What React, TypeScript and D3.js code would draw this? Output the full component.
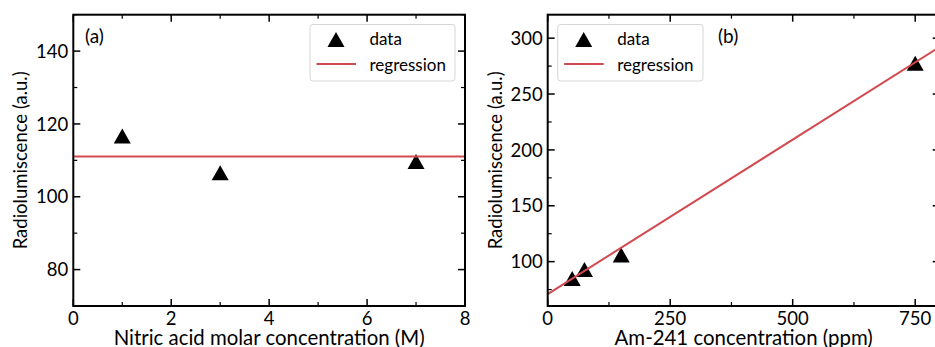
import React from "react";
import * as d3 from "d3";

const W = 935;
const H = 347;
const FONT = "Lato, 'Open Sans', sans-serif";
const RED = "#d24a50";

// Panel (a)
const nitricX = [1, 3, 7];
const nitricY = [116.7, 106.6, 109.7];
const nitricRegression = 111.05;
const aXTicks = [0, 2, 4, 6, 8];
const aXMinor = [1, 3, 5, 7];
const aYTicks = [80, 100, 120, 140];
const aYMinor = [70, 90, 110, 130, 150];

// Panel (b)
const amX = [50, 75, 150, 750];
const amY = [85, 93, 106, 277.6];
const amIntercept = 71;
const amSlope = 0.2764;
const bXTicks = [0, 250, 500, 750];
const bXMinor = [125, 375, 625];
const bYTicks = [100, 150, 200, 250, 300];
const bYMinor = [75, 125, 175, 225, 275];

const yLabel = "Radiolumiscence (a.u.)";

function tri(cx: number, cy: number) {
  const hw = 8.5, hh = 7.5;
  return `M${cx},${cy - hh}L${cx + hw},${cy + hh}L${cx - hw},${cy + hh}Z`;
}

type PanelProps = {
  id: string;
  x: d3.ScaleLinear<number, number>;
  y: d3.ScaleLinear<number, number>;
  xTicks: number[];
  xMinor: number[];
  yTicks: number[];
  yMinor: number[];
  px: number[];
  py: number[];
  line: [number, number][];
  xLabel: string;
  yLabelX: number;
  tag: string;
  tagX: number;
  legendX: number;
  legendW: number;
};

function Panel(p: PanelProps) {
  const [x0, x1] = p.x.range();
  const [y0, y1] = p.y.range(); // y0 bottom, y1 top
  const lineGen = d3.line<[number, number]>().x((d) => p.x(d[0])).y((d) => p.y(d[1]));
  const MAJ = 7, MIN = 4;
  return (
    <g>
      <defs>
        <clipPath id={`clip-${p.id}`}>
          <rect x={x0} y={y1} width={x1 - x0} height={y0 - y1} />
        </clipPath>
      </defs>
      {p.xTicks.map((t) => (
        <g key={`xt${t}`}>
          <line x1={p.x(t)} x2={p.x(t)} y1={y0} y2={y0 - MAJ} stroke="#000" strokeWidth={1.5} />
          <line x1={p.x(t)} x2={p.x(t)} y1={y1} y2={y1 + MAJ} stroke="#000" strokeWidth={1.5} />
          <text x={p.x(t)} y={325} textAnchor="middle" fontSize={18.5} fontFamily={FONT}>{t}</text>
        </g>
      ))}
      {p.xMinor.map((t) => (
        <g key={`xm${t}`}>
          <line x1={p.x(t)} x2={p.x(t)} y1={y0} y2={y0 - MIN} stroke="#000" strokeWidth={1.2} />
          <line x1={p.x(t)} x2={p.x(t)} y1={y1} y2={y1 + MIN} stroke="#000" strokeWidth={1.2} />
        </g>
      ))}
      {p.yTicks.map((t) => (
        <g key={`yt${t}`}>
          <line x1={x0} x2={x0 + MAJ} y1={p.y(t)} y2={p.y(t)} stroke="#000" strokeWidth={1.5} />
          <line x1={x1} x2={x1 - MAJ} y1={p.y(t)} y2={p.y(t)} stroke="#000" strokeWidth={1.5} />
          <text x={x0 - 5} y={p.y(t)} dy="0.36em" textAnchor="end" fontSize={18.5} fontFamily={FONT}>{t}</text>
        </g>
      ))}
      {p.yMinor.map((t) => (
        <g key={`ym${t}`}>
          <line x1={x0} x2={x0 + MIN} y1={p.y(t)} y2={p.y(t)} stroke="#000" strokeWidth={1.2} />
          <line x1={x1} x2={x1 - MIN} y1={p.y(t)} y2={p.y(t)} stroke="#000" strokeWidth={1.2} />
        </g>
      ))}
      <g clipPath={`url(#clip-${p.id})`}>
        {p.px.map((v, i) => (
          <path key={i} d={tri(p.x(v), p.y(p.py[i]))} fill="#000" />
        ))}
        <path d={lineGen(p.line) || ""} fill="none" stroke={RED} strokeWidth={2} />
      </g>
      <rect x={x0} y={y1} width={x1 - x0} height={y0 - y1} fill="none" stroke="#000" strokeWidth={2} />
      <text x={p.tagX} y={43} fontSize={19} fontFamily={FONT}>{p.tag}</text>
      <g>
        <rect x={p.legendX} y={24.5} width={p.legendW} height={56.5} rx={3} fill="#fff" fillOpacity={0.85} stroke="#d6d6d6" strokeWidth={1} />
        <path d={tri(p.legendX + 26, 39.5)} fill="#000" />
        <text x={p.legendX + 59.5} y={45} fontSize={17} fontFamily={FONT}>data</text>
        <line x1={p.legendX + 6.5} x2={p.legendX + 46} y1={64} y2={64} stroke={RED} strokeWidth={2} />
        <text x={p.legendX + 59.5} y={70.5} fontSize={17} fontFamily={FONT}>regression</text>
      </g>
      <text x={(x0 + x1) / 2} y={345} textAnchor="middle" fontSize={20.4} fontFamily={FONT}>{p.xLabel}</text>
      <text transform={`translate(${p.yLabelX},${(y0 + y1) / 2}) rotate(-90)`} textAnchor="middle" fontSize={18.5} fontFamily={FONT}>{yLabel}</text>
    </g>
  );
}

export default function App() {
  const top = 14.7, bottom = 306;
  const xa = d3.scaleLinear().domain([0, 8]).range([73.3, 465]);
  const ya = d3.scaleLinear().domain([70, 150]).range([bottom, top]);
  const xb = d3.scaleLinear().domain([0, 800]).range([547.7, 939.7]);
  const yb = d3.scaleLinear().domain([60.3, 321]).range([bottom, top]);
  const lineA: [number, number][] = [[0, nitricRegression], [8, nitricRegression]];
  const lineB: [number, number][] = [[0, amIntercept], [800, amIntercept + amSlope * 800]];
  return (
    <svg width={W} height={H} style={{ position: "absolute", left: 0, top: 0, background: "#fff" }}>
      <rect width={W} height={H} fill="#fff" />
      <Panel id="a" x={xa} y={ya} xTicks={aXTicks} xMinor={aXMinor} yTicks={aYTicks} yMinor={aYMinor}
        px={nitricX} py={nitricY} line={lineA} xLabel="Nitric acid molar concentration (M)" yLabelX={27}
        tag="(a)" tagX={85} legendX={310} legendW={145} />
      <Panel id="b" x={xb} y={yb} xTicks={bXTicks} xMinor={bXMinor} yTicks={bYTicks} yMinor={bYMinor}
        px={amX} py={amY} line={lineB} xLabel="Am-241 concentration (ppm)" yLabelX={501.5}
        tag="(b)" tagX={718} legendX={557.7} legendW={145.3} />
    </svg>
  );
}
